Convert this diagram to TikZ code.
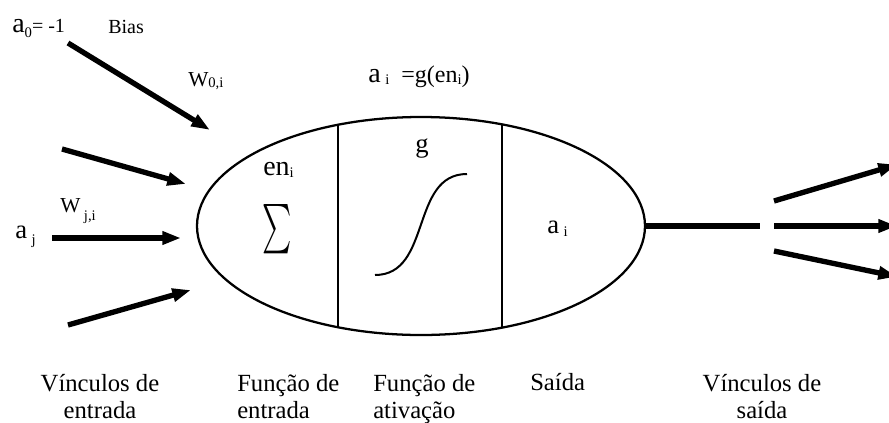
\documentclass[tikz,border=0pt]{standalone}
\usepackage{fontspec}
\setmainfont{Liberation Serif}
\usetikzlibrary{arrows.meta,shapes.geometric}
\newcommand{\fs}[1]{\fontsize{#1}{#1}\selectfont}
\newcommand{\sbs}[2][3pt]{\raisebox{-#1}{\fs{11pt}#2}}
\tikzset{
  link/.style={line width=4pt, -{Triangle[length=14pt,width=9.5pt]}},
  lbl/.style={inner sep=0pt, font=\fontsize{18.5pt}{20pt}\selectfont},
  tag/.style={inner sep=0pt, anchor=base west},
}
\begin{document}
\begin{tikzpicture}[x=0.75pt, y=-0.75pt]
\clip (0,0) rectangle (889,422);
\node[draw, ellipse, line width=1.7pt, inner sep=0pt, minimum width=336pt, minimum height=163.5pt] (neuron) at (421,226) {};
\draw[line width=1.5pt] (338,125) -- (338,327);
\draw[line width=1.5pt] (502,124.5) -- (502,327.5);
\draw[line width=1.5pt] (375,275) .. controls (432,275) and (410,174) .. (467,174);
\node[inner sep=0pt] (sum) at (277.5,229) {\resizebox*{22pt}{37pt}{$\sum$}};
\node[tag] (net) at (263,175) {\fs{21pt}en\sbs[2pt]{i}};
\node[inner sep=0pt, anchor=base] (gfun) at (422,152) {\fs{20pt}g};
\node[tag] (aout) at (547,233) {\fs{20pt}a\,\sbs[2.5pt]{i}};
\node[tag] (act) at (368,82) {\fs{21pt}a\,\sbs[2pt]{i}\hspace{9pt}\fs{18pt}=g(en\sbs[2pt]{i})};
\foreach \n/\sx/\sy/\ex/\ey in {0/68/43/210/130, 1/62/149/186/184, 2/52/238/181/238, 3/68/325/191/290}{
  \coordinate (src\n) at (\sx,\sy);
  \coordinate (dst\n) at (\ex,\ey);
  \draw[link] (src\n) -- (dst\n);
}
\node[tag] (bias) at (12,32) {\fs{21pt}a\sbs[4pt]{0}\fs{15pt}= -1};
\node[tag] (biaslbl) at (108,33) {\fs{15pt}Bias};
\node[tag] (w0) at (188,86) {\fs{16pt}W\sbs[1pt]{0,i}};
\node[tag] (wj) at (60,212) {\fs{16pt}W\,\sbs[6pt]{j,i}};
\node[tag] (aj) at (15,238) {\fs{20pt}a\,\sbs[5pt]{j}};
\coordinate (split) at (760,226);
\draw[line width=4pt] (neuron.east) -- (split);
\foreach \n/\sy/\ey in {1/201/164.6, 2/226/226, 3/251/276.7}{
  \coordinate (out\n) at (774,\sy);
  \coordinate (end\n) at (897,\ey);
  \draw[link] (out\n) -- (end\n);
}
\node[lbl, anchor=base, align=center] (inlinks) at (100,418) {Vínculos de\\entrada};
\node[lbl, anchor=base west, align=left] (infun) at (237,418) {Função de\\entrada};
\node[lbl, anchor=base west, align=left] (actfun) at (373,418) {Função de\\ativação};
\node[lbl, anchor=base west] (outlbl) at (530,390) {Saída};
\node[lbl, anchor=base, align=center] (outlinks) at (762,418) {Vínculos de\\saída};
\end{tikzpicture}
\end{document}
